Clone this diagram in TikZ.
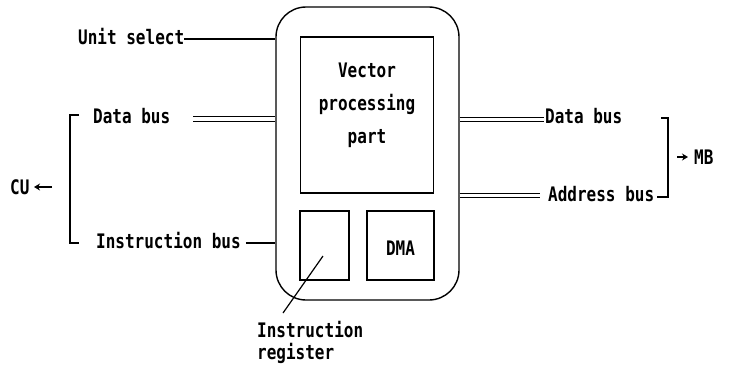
\documentclass[tikz,border=0pt]{standalone}
\usepackage{fontspec}
\newfontfamily\dfont{DejaVu Sans Mono}[FakeStretch=0.8]
\usetikzlibrary{arrows.meta}
\begin{document}
\begin{tikzpicture}[x=1pt,y=-1pt,
  every node/.style={inner sep=0pt},
  lbl/.style={font=\dfont\bfseries\fontsize{20}{22}\selectfont, text height=14pt, text depth=4pt},
  mlbl/.style={font=\dfont\bfseries\fontsize{20}{22}\selectfont},
  boxline/.style={draw, line width=1.4pt},
  wire/.style={line width=1.2pt},
  dbl/.style={double, double distance=3.6pt, line width=1pt},
  arr/.style={line width=1.3pt, -{Stealth[length=6pt,width=7pt]}}
]
\useasboundingbox (0,0) rectangle (729,367);

% outer unit
\node[boxline, rounded corners=30pt, minimum width=183pt, minimum height=293pt] (outer) at (367.5,153.5) {};
% vector processing part
\node[boxline, minimum width=133pt, minimum height=156pt] (vpp) at (367,115) {};
\node[mlbl, align=center, anchor=north, font=\dfont\bfseries\fontsize{20}{33}\selectfont] (vppt) at (367,63) {Vector\\processing\\part};
% instruction register box
\node[boxline, minimum width=49pt, minimum height=69pt] (ir) at (324.5,245.5) {};
% DMA box
\node[boxline, minimum width=67pt, minimum height=69pt] (dma) at (400.5,245.5) {};
\node[lbl] (dmat) at (400.5,250) {DMA};

% labels
\node[lbl, anchor=west] (us) at (78,39) {Unit select};
\node[lbl, anchor=west] (ldb) at (93,118) {Data bus};
\node[lbl, anchor=west] (ib) at (96,243) {Instruction bus};
\node[lbl, anchor=west] (rdb) at (545,118) {Data bus};
\node[lbl, anchor=west] (ab) at (548,196) {Address bus};
\node[lbl, anchor=west] (cu) at (10,189) {CU};
\node[lbl, anchor=west] (mb) at (694,159) {MB};
\node[mlbl, align=left, anchor=north west] (irl) at (257,321) {Instruction\\register};

% connectors
\draw[wire] (us.east) -- (us.east -| outer.west);
\coordinate (ldbS) at (193,119);
\draw[dbl] (ldbS) -- (ldbS -| outer.west);
\draw[wire] ([xshift=5pt]ib.east) -- (ib.east -| outer.west);
\coordinate (rdbE) at (544,119.5);
\draw[dbl] (rdbE -| outer.east) -- (rdbE);
\coordinate (abE) at (540,195.5);
\draw[dbl] (abE -| outer.east) -- (abE);

% brackets
\coordinate (lbT) at (79,115);
\coordinate (lbB) at (79,243);
\draw[wire] (lbT) -- (70,115) -- (70,243) -- (lbB);
\coordinate (rbT) at (661,118);
\coordinate (rbB) at (657,197);
\draw[wire] (rbT) -- (668,118) -- (668,197) -- (rbB);

% arrows
\coordinate (cuT) at (52,187);
\coordinate (cuH) at (34,187);
\draw[arr] (cuT) -- (cuH);
\coordinate (mbT) at (677,157);
\coordinate (mbH) at (688,157);
\draw[arr] (mbT) -- (mbH);

% instruction register pointer
\coordinate (irP) at (323,256);
\coordinate (irQ) at (283,313);
\draw[wire] (irP) -- (irQ);
\end{tikzpicture}
\end{document}
